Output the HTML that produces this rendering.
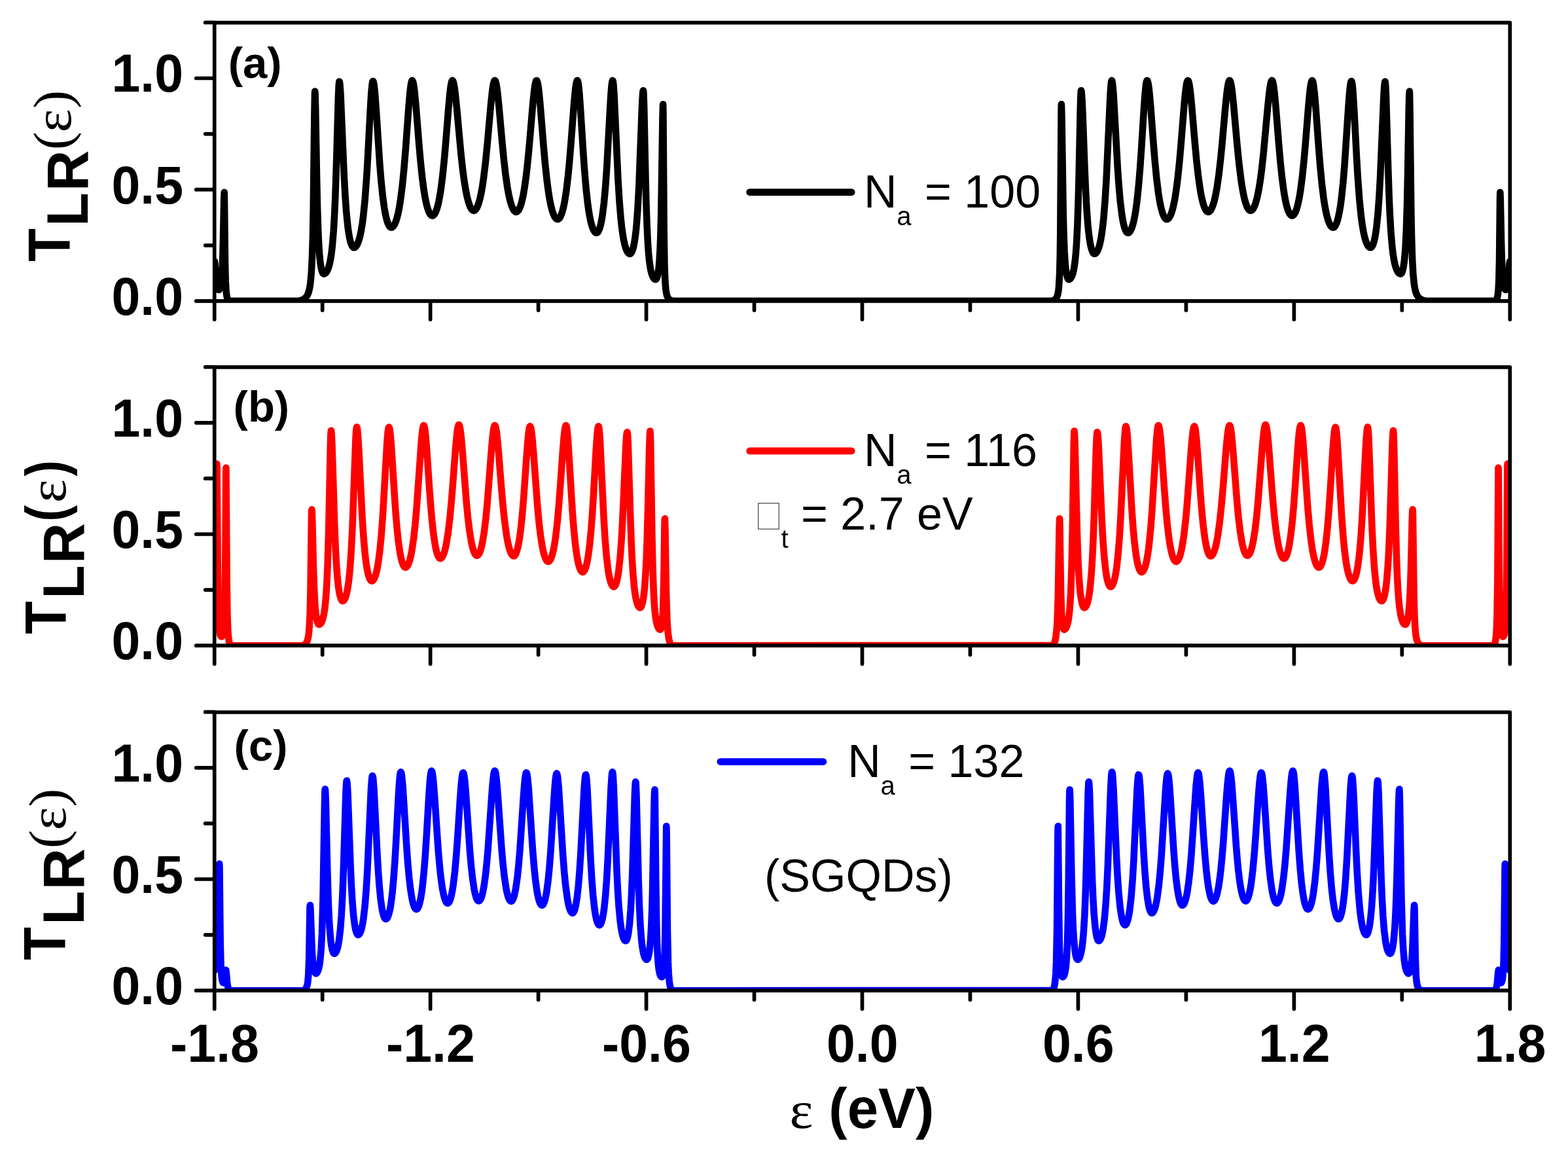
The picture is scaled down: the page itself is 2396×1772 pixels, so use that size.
<!DOCTYPE html>
<html><head><meta charset="utf-8"><title>Transmission spectra of SGQDs</title>
<style>
html,body{margin:0;padding:0;background:#fff;overflow:hidden;}
svg{display:block;}
.tk{font-family:"Liberation Sans",Arial,sans-serif;font-weight:bold;font-size:80px;fill:#000;}
.lg{font-family:"Liberation Sans",Arial,sans-serif;font-size:70px;fill:#000;}
.sub{font-family:"Liberation Sans",Arial,sans-serif;font-size:40px;fill:#000;}
.pl{font-family:"Liberation Sans",Arial,sans-serif;font-weight:bold;font-size:67px;fill:#000;}
.yl{font-family:"Liberation Sans",Arial,sans-serif;font-weight:bold;font-size:87px;fill:#000;}
.sr{font-family:"Liberation Serif","Times New Roman",serif;font-size:87px;fill:#000;}
</style></head>
<body>
<svg width="2396" height="1772" viewBox="0 0 2396 1772">
<rect width="2396" height="1772" fill="#fff"/>
<defs>
<clipPath id="c0"><rect x="327.7" y="34.6" width="1979.60" height="425.30"/></clipPath>
<clipPath id="c1"><rect x="327.7" y="560.9" width="1979.60" height="425.30"/></clipPath>
<clipPath id="c2"><rect x="327.7" y="1088.0" width="1979.60" height="425.20"/></clipPath>
</defs>
<path clip-path="url(#c0)" d="M327.70,400.33 L327.95,399.44 L328.45,402.66 L330.45,429.75 L331.20,435.40 L332.20,439.83 L332.95,441.64 L333.70,442.52 L334.20,442.69 L334.70,442.55 L335.45,441.73 L336.70,438.54 L337.95,431.74 L339.20,417.70 L340.20,395.63 L340.95,367.94 L342.20,306.09 L342.70,293.78 L342.95,303.74 L343.95,396.98 L344.70,429.17 L345.45,443.25 L346.20,450.24 L346.70,453.06 L347.45,455.83 L348.20,457.60 L348.95,458.79 L349.95,459.86 L350.20,459.90 L455.95,459.90 L460.70,458.67 L464.20,457.02 L466.95,454.83 L469.20,451.85 L470.95,448.13 L472.20,444.14 L473.20,439.65 L474.20,433.33 L475.70,417.82 L476.95,394.13 L477.95,360.92 L478.70,321.48 L480.45,173.19 L480.95,143.70 L481.20,139.58 L481.45,141.25 L481.70,146.40 L482.20,165.59 L483.95,266.37 L484.95,313.22 L486.20,353.21 L487.45,378.44 L488.45,391.81 L489.45,401.21 L490.70,409.16 L491.95,414.18 L493.20,417.09 L493.95,418.00 L494.70,418.37 L495.70,418.24 L496.95,417.61 L497.95,416.72 L498.95,415.46 L500.70,412.24 L502.45,407.44 L503.95,401.69 L505.20,395.37 L506.45,387.23 L507.70,376.71 L509.70,352.87 L511.20,326.89 L512.45,297.96 L513.95,252.94 L516.95,147.91 L517.70,131.28 L518.20,125.62 L518.45,124.65 L518.70,124.81 L518.95,125.64 L519.45,129.19 L520.45,143.04 L525.70,266.39 L527.45,298.65 L529.20,323.30 L531.45,345.94 L532.70,355.11 L533.95,362.34 L535.20,367.95 L536.70,372.88 L538.20,376.11 L539.70,377.84 L540.70,378.20 L541.70,378.06 L542.95,377.36 L543.95,376.39 L545.20,374.62 L546.20,372.74 L548.20,367.62 L550.20,360.40 L551.95,352.00 L553.70,341.23 L555.20,329.71 L557.70,304.72 L560.20,270.90 L561.95,241.53 L565.70,169.57 L567.20,144.63 L567.95,135.09 L568.70,128.26 L569.45,124.55 L569.95,123.93 L570.20,124.11 L570.70,125.25 L571.45,128.88 L572.20,134.63 L573.20,145.15 L574.70,165.43 L580.45,252.53 L582.45,276.79 L584.70,298.80 L587.20,317.33 L588.45,324.58 L589.95,331.73 L591.45,337.38 L592.95,341.68 L594.45,344.75 L596.20,346.90 L597.20,347.46 L598.20,347.55 L599.45,347.13 L600.45,346.38 L602.45,343.75 L604.45,339.53 L606.45,333.55 L608.20,326.70 L609.95,318.14 L611.70,307.65 L614.70,284.46 L617.45,256.64 L619.95,225.88 L624.45,164.22 L626.20,143.56 L627.20,134.29 L628.20,127.54 L629.20,123.71 L629.70,122.97 L629.95,122.91 L630.70,123.80 L631.70,127.36 L632.70,133.45 L633.70,141.73 L635.70,163.12 L640.20,219.34 L642.45,245.04 L644.95,269.30 L647.70,290.47 L649.20,299.74 L650.70,307.54 L652.20,313.99 L653.95,319.97 L655.45,323.87 L657.20,327.09 L658.95,328.96 L659.70,329.36 L660.70,329.52 L661.70,329.27 L662.45,328.81 L664.20,326.79 L665.95,323.41 L667.45,319.37 L669.20,313.21 L670.70,306.58 L672.20,298.59 L673.70,289.12 L676.20,269.74 L678.70,245.58 L680.95,219.95 L685.45,163.72 L687.20,144.58 L688.20,135.72 L689.20,128.94 L690.20,124.59 L690.95,123.08 L691.45,122.93 L691.95,123.38 L692.45,124.38 L693.20,126.88 L694.45,133.57 L695.70,142.97 L697.95,164.77 L704.45,235.47 L706.95,258.21 L709.20,275.34 L711.45,289.35 L713.70,300.50 L716.20,309.84 L717.45,313.42 L718.70,316.33 L719.70,318.18 L720.95,319.94 L721.95,320.91 L723.20,321.58 L724.45,321.66 L725.45,321.29 L726.45,320.52 L727.45,319.36 L729.45,315.79 L731.45,310.49 L733.45,303.31 L735.45,294.07 L737.20,284.13 L738.70,274.12 L741.95,247.45 L744.70,219.72 L749.95,160.72 L751.95,141.53 L753.20,132.33 L754.20,127.03 L755.20,123.84 L755.70,123.09 L756.20,122.92 L756.70,123.32 L757.20,124.28 L758.20,127.87 L759.20,133.50 L760.45,143.02 L762.45,162.47 L767.20,215.89 L769.70,241.77 L772.45,265.95 L775.20,285.30 L776.70,293.92 L778.45,302.39 L779.95,308.38 L781.70,314.01 L783.45,318.29 L785.20,321.29 L786.95,323.10 L787.70,323.51 L788.70,323.74 L789.70,323.57 L790.45,323.18 L792.20,321.33 L793.95,318.15 L795.45,314.31 L796.95,309.38 L798.45,303.27 L799.95,295.88 L801.45,287.12 L804.20,267.18 L806.70,244.44 L809.20,217.54 L813.95,161.48 L815.95,141.36 L817.20,131.85 L818.20,126.52 L819.20,123.52 L819.70,122.95 L820.20,123.03 L820.95,124.41 L821.95,128.55 L822.95,135.10 L823.95,143.71 L825.70,162.49 L830.45,221.51 L832.95,249.69 L835.70,275.55 L838.45,295.86 L840.20,306.14 L841.95,314.58 L843.70,321.37 L845.45,326.65 L847.20,330.56 L849.20,333.49 L850.20,334.36 L851.20,334.85 L852.20,334.96 L853.20,334.67 L854.20,333.94 L854.95,333.11 L856.45,330.69 L858.20,326.54 L859.70,321.76 L861.20,315.74 L862.70,308.36 L865.45,290.87 L867.95,269.92 L870.20,246.58 L872.45,219.26 L876.70,163.03 L878.45,143.11 L879.45,134.14 L880.45,127.57 L881.45,123.77 L881.95,123.00 L882.20,122.90 L882.45,123.04 L882.95,124.12 L883.70,127.70 L884.45,133.47 L885.45,144.12 L886.95,164.77 L890.95,228.58 L892.95,257.35 L895.45,287.13 L897.95,310.07 L899.45,320.94 L900.95,329.95 L902.45,337.32 L904.20,344.10 L905.95,349.16 L907.70,352.71 L909.45,354.86 L910.45,355.51 L911.45,355.74 L912.45,355.47 L913.20,354.89 L914.70,352.71 L916.20,349.10 L917.70,343.91 L919.20,336.94 L920.45,329.59 L922.95,309.81 L925.20,284.99 L927.20,256.36 L932.20,164.69 L933.70,140.78 L934.45,131.95 L935.20,125.92 L935.95,123.09 L936.20,122.90 L936.45,123.25 L936.95,125.53 L937.45,129.86 L938.45,143.93 L944.45,274.33 L946.45,307.02 L948.70,334.29 L949.95,345.89 L951.45,357.14 L952.95,366.01 L954.70,373.92 L956.45,379.72 L958.20,383.78 L959.20,385.42 L960.20,386.60 L961.20,387.37 L962.20,387.71 L962.95,387.68 L963.70,387.29 L965.20,385.35 L966.70,381.76 L968.20,376.24 L969.45,369.88 L970.70,361.54 L971.95,350.77 L972.95,339.99 L974.70,315.35 L976.45,281.57 L981.20,157.71 L982.20,142.13 L982.70,138.71 L982.95,138.22 L983.20,139.11 L983.45,142.34 L984.20,164.38 L986.45,271.27 L987.45,310.39 L988.70,346.39 L989.95,371.23 L990.95,385.44 L991.95,396.10 L992.95,404.19 L994.20,411.68 L995.70,417.96 L997.45,422.71 L999.20,425.49 L1000.20,426.38 L1001.20,426.82 L1001.95,426.85 L1002.45,426.57 L1003.20,425.62 L1003.70,424.60 L1004.70,421.48 L1005.70,416.50 L1006.70,408.86 L1007.45,400.57 L1008.70,378.85 L1009.45,358.28 L1010.20,328.90 L1012.45,182.65 L1012.95,161.97 L1013.20,159.33 L1013.45,174.17 L1014.70,355.80 L1015.45,403.17 L1016.20,425.65 L1016.70,434.29 L1017.45,442.48 L1018.45,448.75 L1019.45,452.38 L1020.95,455.49 L1022.70,457.46 L1025.20,458.94 L1028.45,459.89 L1606.30,459.90 L1608.55,459.39 L1610.55,458.59 L1612.55,457.24 L1614.30,455.09 L1615.55,452.38 L1616.55,448.75 L1617.30,444.42 L1618.05,437.52 L1619.05,419.78 L1619.80,391.29 L1620.30,355.80 L1621.55,174.17 L1621.80,159.33 L1622.05,161.97 L1622.55,182.65 L1624.80,328.90 L1625.55,358.28 L1626.55,384.24 L1627.80,403.64 L1628.55,411.08 L1629.55,417.95 L1630.55,422.41 L1631.80,425.62 L1632.30,426.33 L1633.05,426.85 L1634.30,426.66 L1635.30,425.99 L1636.05,425.19 L1637.80,422.17 L1639.30,417.96 L1640.80,411.68 L1642.05,404.19 L1643.05,396.10 L1644.05,385.44 L1645.05,371.23 L1646.30,346.39 L1647.55,310.39 L1648.55,271.27 L1650.80,164.38 L1651.30,147.80 L1651.80,139.11 L1652.05,138.22 L1652.55,140.02 L1653.55,152.86 L1654.55,175.16 L1657.30,251.23 L1658.80,287.02 L1660.55,319.39 L1662.30,342.89 L1663.30,353.14 L1664.55,363.39 L1665.80,371.30 L1667.05,377.31 L1668.55,382.48 L1670.05,385.78 L1670.80,386.81 L1671.55,387.46 L1672.30,387.73 L1673.30,387.59 L1674.30,387.04 L1675.30,386.06 L1677.05,383.29 L1678.80,379.00 L1680.55,372.93 L1682.05,366.01 L1683.55,357.14 L1685.05,345.89 L1686.30,334.29 L1688.55,307.02 L1690.55,274.33 L1696.55,143.93 L1697.80,127.45 L1698.30,124.13 L1698.80,122.90 L1699.30,123.66 L1700.05,127.59 L1701.55,144.26 L1707.80,256.36 L1709.80,284.99 L1711.80,307.41 L1714.30,327.93 L1715.55,335.59 L1716.80,341.80 L1718.30,347.55 L1719.80,351.67 L1721.30,354.32 L1722.05,355.12 L1722.80,355.59 L1723.80,355.72 L1724.80,355.39 L1725.80,354.64 L1726.80,353.46 L1728.80,349.76 L1730.55,344.92 L1732.30,338.40 L1734.05,329.95 L1735.55,320.94 L1737.05,310.07 L1739.55,287.13 L1742.05,257.35 L1744.05,228.58 L1748.05,164.77 L1749.55,144.12 L1751.05,129.39 L1751.80,125.05 L1752.55,123.04 L1753.05,123.00 L1753.55,123.77 L1754.55,127.57 L1755.55,134.14 L1756.55,143.11 L1758.30,163.03 L1762.55,219.26 L1764.80,246.58 L1767.30,272.25 L1770.05,294.46 L1771.55,304.13 L1773.05,312.23 L1774.55,318.91 L1776.30,325.08 L1777.80,329.10 L1779.55,332.42 L1781.30,334.36 L1782.05,334.78 L1783.05,334.97 L1784.05,334.77 L1785.05,334.18 L1786.80,332.23 L1788.55,329.05 L1790.30,324.56 L1792.05,318.65 L1793.55,312.35 L1795.30,303.40 L1796.80,294.23 L1799.55,273.43 L1802.30,247.06 L1804.55,221.51 L1809.30,162.49 L1811.05,143.71 L1812.05,135.10 L1813.05,128.55 L1814.05,124.41 L1814.80,123.03 L1815.30,122.95 L1815.80,123.52 L1816.80,126.52 L1817.80,131.85 L1819.05,141.36 L1821.05,161.48 L1825.80,217.54 L1828.30,244.44 L1830.80,267.18 L1833.55,287.12 L1835.05,295.88 L1836.55,303.27 L1838.05,309.38 L1839.55,314.31 L1841.05,318.15 L1842.80,321.33 L1844.55,323.18 L1845.30,323.57 L1846.30,323.74 L1847.30,323.51 L1848.05,323.10 L1849.80,321.29 L1851.55,318.29 L1853.30,314.01 L1855.05,308.38 L1856.55,302.39 L1858.30,293.92 L1859.80,285.30 L1862.55,265.95 L1865.30,241.77 L1867.80,215.89 L1872.55,162.47 L1874.55,143.02 L1875.80,133.50 L1876.80,127.87 L1877.80,124.28 L1878.30,123.32 L1878.80,122.92 L1879.30,123.09 L1879.80,123.84 L1880.80,127.03 L1881.80,132.33 L1883.05,141.53 L1885.05,160.72 L1890.30,219.72 L1893.05,247.45 L1896.30,274.12 L1897.80,284.13 L1899.55,294.07 L1901.55,303.31 L1903.55,310.49 L1905.55,315.79 L1907.55,319.36 L1908.55,320.52 L1909.55,321.29 L1910.55,321.66 L1911.80,321.58 L1913.05,320.91 L1914.05,319.94 L1915.30,318.18 L1916.30,316.33 L1917.55,313.42 L1918.80,309.84 L1921.30,300.50 L1923.55,289.35 L1925.80,275.34 L1928.05,258.21 L1930.55,235.47 L1937.05,164.77 L1939.30,142.97 L1940.55,133.57 L1941.80,126.88 L1942.55,124.38 L1943.05,123.38 L1943.55,122.93 L1944.05,123.08 L1944.80,124.59 L1945.80,128.94 L1946.80,135.72 L1947.80,144.58 L1949.55,163.72 L1954.05,219.95 L1956.30,245.58 L1958.80,269.74 L1961.30,289.12 L1962.80,298.59 L1964.30,306.58 L1965.80,313.21 L1967.55,319.37 L1969.05,323.41 L1970.80,326.79 L1972.55,328.81 L1973.30,329.27 L1974.30,329.52 L1975.30,329.36 L1976.05,328.96 L1977.80,327.09 L1979.55,323.87 L1981.05,319.97 L1982.80,313.99 L1984.30,307.54 L1985.80,299.74 L1987.30,290.47 L1990.05,269.30 L1992.55,245.04 L1994.80,219.34 L1999.30,163.12 L2001.30,141.73 L2002.30,133.45 L2003.30,127.36 L2004.30,123.80 L2004.80,123.03 L2005.30,122.97 L2006.05,124.37 L2007.05,128.97 L2008.80,143.56 L2010.55,164.22 L2015.05,225.88 L2017.30,253.79 L2019.80,279.88 L2022.55,302.50 L2024.05,312.40 L2025.80,322.03 L2027.55,329.83 L2029.30,336.01 L2031.05,340.74 L2033.05,344.55 L2034.05,345.86 L2035.05,346.80 L2036.05,347.36 L2037.05,347.57 L2038.05,347.36 L2038.80,346.90 L2040.55,344.75 L2042.30,341.05 L2043.80,336.54 L2045.30,330.65 L2046.80,323.22 L2048.30,314.07 L2049.80,302.97 L2052.30,279.51 L2054.55,252.53 L2060.30,165.43 L2061.80,145.15 L2062.80,134.63 L2063.55,128.88 L2064.30,125.25 L2064.80,124.11 L2065.05,123.93 L2065.55,124.55 L2066.30,128.26 L2067.05,135.09 L2067.80,144.63 L2069.30,169.57 L2073.05,241.53 L2074.80,270.90 L2077.30,304.72 L2079.80,329.71 L2081.30,341.23 L2083.05,352.00 L2084.80,360.40 L2086.55,366.84 L2088.55,372.21 L2089.55,374.19 L2090.80,376.08 L2091.80,377.15 L2093.05,377.96 L2094.05,378.20 L2095.05,377.99 L2095.80,377.42 L2096.55,376.50 L2098.05,373.53 L2099.55,368.90 L2100.80,363.58 L2102.05,356.69 L2103.30,347.95 L2105.55,326.27 L2107.30,302.61 L2109.05,271.49 L2114.55,143.04 L2115.55,129.19 L2116.05,125.64 L2116.30,124.81 L2116.55,124.65 L2116.80,125.62 L2117.30,131.28 L2118.05,147.91 L2121.05,252.94 L2122.55,297.96 L2123.80,326.89 L2125.30,352.87 L2127.30,376.71 L2128.55,387.23 L2129.80,395.37 L2131.05,401.69 L2132.55,407.44 L2134.30,412.24 L2136.05,415.46 L2137.05,416.72 L2138.05,417.61 L2139.30,418.24 L2140.30,418.37 L2141.05,418.00 L2141.80,417.09 L2143.05,414.18 L2144.30,409.16 L2145.55,401.21 L2146.55,391.81 L2147.55,378.44 L2148.80,353.21 L2150.05,313.22 L2151.05,266.37 L2152.80,165.59 L2153.30,146.40 L2153.55,141.25 L2153.80,139.58 L2154.05,143.70 L2154.55,173.19 L2156.30,321.48 L2157.05,360.92 L2158.05,394.13 L2159.30,417.82 L2160.80,433.33 L2161.80,439.65 L2162.80,444.14 L2164.05,448.13 L2165.80,451.85 L2168.05,454.83 L2170.80,457.02 L2174.30,458.67 L2179.05,459.90 L2284.80,459.90 L2285.05,459.86 L2286.05,458.79 L2286.80,457.60 L2287.55,455.83 L2288.30,453.06 L2288.80,450.24 L2289.55,443.25 L2290.30,429.17 L2291.05,396.98 L2292.05,303.74 L2292.30,293.78 L2292.80,306.09 L2294.05,367.94 L2294.80,395.63 L2295.80,417.70 L2297.05,431.74 L2298.30,438.54 L2299.55,441.73 L2300.30,442.55 L2300.80,442.69 L2301.30,442.52 L2302.05,441.64 L2302.80,439.83 L2303.80,435.40 L2304.55,429.75 L2306.55,402.66 L2307.05,399.44 L2307.30,400.33" fill="none" stroke="#000000" stroke-width="10.6" stroke-linejoin="round" stroke-linecap="round"/>
<path clip-path="url(#c1)" d="M327.70,884.08 L327.95,883.39 L328.20,881.29 L328.70,872.48 L329.45,844.94 L330.95,730.76 L331.45,708.64 L331.70,719.13 L332.95,894.33 L333.45,925.21 L333.95,942.80 L334.95,960.12 L335.70,966.21 L336.70,970.41 L337.20,971.55 L337.95,972.44 L338.70,972.53 L339.45,971.86 L340.20,970.28 L340.70,968.54 L341.70,962.31 L342.45,953.07 L342.95,942.42 L343.70,911.64 L344.45,839.55 L345.20,723.94 L345.45,714.57 L346.70,888.89 L347.45,938.91 L348.20,960.94 L348.95,971.97 L349.95,979.62 L350.70,982.88 L351.45,985.04 L351.95,986.11 L352.20,986.20 L462.95,986.20 L464.95,985.23 L466.70,983.83 L468.20,981.87 L469.45,979.22 L470.45,975.87 L471.20,972.10 L471.95,966.49 L472.95,953.72 L473.70,936.33 L474.45,905.43 L475.95,789.41 L476.20,779.49 L476.45,778.38 L476.70,780.60 L477.20,793.18 L478.95,865.45 L479.95,896.49 L481.20,921.23 L481.95,930.92 L482.95,939.97 L484.20,947.16 L484.95,949.96 L485.70,951.94 L486.45,953.22 L487.45,954.01 L488.20,953.96 L489.45,953.17 L490.45,952.00 L491.45,950.28 L492.45,947.92 L493.45,944.77 L494.95,938.13 L496.45,928.21 L497.70,916.16 L498.70,902.87 L499.70,884.98 L500.70,860.78 L502.20,808.32 L504.95,677.33 L505.45,663.11 L505.95,657.73 L506.20,658.55 L506.70,663.72 L507.45,679.29 L511.45,807.85 L512.95,842.91 L514.45,868.29 L516.20,888.73 L517.20,897.13 L518.45,905.10 L519.70,910.83 L520.95,914.73 L521.70,916.32 L522.45,917.40 L523.20,917.99 L523.95,918.11 L524.95,917.70 L525.70,917.00 L526.70,915.51 L527.45,913.97 L528.95,909.62 L530.45,903.34 L531.70,896.29 L532.95,887.18 L534.20,875.49 L535.20,863.86 L536.95,837.32 L538.70,801.02 L543.45,670.46 L544.20,657.96 L544.95,652.44 L545.20,652.31 L545.45,652.72 L546.20,656.70 L547.45,671.43 L548.70,693.57 L553.45,789.10 L555.45,819.63 L557.45,842.82 L558.70,854.11 L559.95,863.31 L561.20,870.71 L562.45,876.53 L563.70,880.98 L565.20,884.71 L566.70,886.84 L567.45,887.35 L568.20,887.48 L569.20,887.18 L569.95,886.63 L571.70,884.20 L573.45,880.06 L574.95,875.02 L576.45,868.39 L577.95,859.93 L580.45,840.96 L582.70,817.47 L584.95,786.77 L591.45,674.08 L592.70,659.73 L593.45,654.65 L593.95,652.96 L594.20,652.64 L594.45,652.65 L594.70,652.96 L595.45,655.58 L596.20,660.64 L597.20,670.70 L598.70,691.11 L602.45,751.57 L604.45,780.74 L606.45,805.11 L608.70,826.68 L611.20,844.21 L612.45,850.79 L613.95,857.01 L615.20,860.94 L616.70,864.26 L618.20,866.16 L618.95,866.61 L619.70,866.72 L620.70,866.41 L621.45,865.85 L622.95,863.90 L624.70,860.13 L626.20,855.52 L627.70,849.53 L629.20,841.99 L631.95,823.57 L634.45,800.79 L636.70,774.82 L643.95,672.37 L645.45,657.84 L646.20,653.16 L646.70,651.15 L647.20,650.07 L647.45,649.89 L647.70,649.96 L648.45,651.65 L649.45,657.19 L650.45,666.08 L652.20,687.62 L656.20,746.68 L658.20,773.45 L660.20,796.06 L662.45,816.27 L664.95,832.82 L666.20,839.03 L667.45,844.00 L668.70,847.83 L670.20,851.01 L671.45,852.55 L672.20,853.00 L672.95,853.10 L673.95,852.77 L674.70,852.20 L676.20,850.20 L677.70,847.04 L679.20,842.62 L680.70,836.87 L681.95,830.98 L684.70,814.06 L687.20,793.41 L689.45,770.16 L691.70,742.78 L695.70,689.68 L697.45,669.49 L698.45,660.36 L699.45,653.65 L700.45,649.76 L700.95,648.97 L701.20,648.86 L701.45,648.97 L701.95,649.77 L702.95,653.66 L703.95,660.39 L704.95,669.52 L706.70,689.71 L712.70,766.87 L714.95,790.28 L717.45,811.03 L720.20,827.91 L721.45,833.74 L722.95,839.35 L724.20,842.97 L725.70,846.10 L727.20,847.99 L727.95,848.48 L728.70,848.68 L729.45,848.57 L730.20,848.16 L731.70,846.42 L733.20,843.41 L734.45,839.89 L735.95,834.37 L737.20,828.60 L739.95,811.81 L742.45,791.04 L744.70,767.55 L750.70,689.92 L752.45,669.75 L753.45,660.72 L754.45,654.18 L755.45,650.55 L755.70,650.14 L756.20,649.90 L756.95,650.94 L757.95,654.78 L758.95,661.19 L759.95,669.81 L761.70,688.82 L766.20,745.38 L768.70,773.70 L771.45,799.28 L774.20,818.85 L775.95,828.43 L777.70,836.00 L779.45,841.75 L781.45,846.28 L783.20,848.56 L784.20,849.20 L785.20,849.35 L786.20,848.91 L786.95,848.16 L787.95,846.58 L788.70,844.96 L790.70,838.69 L792.70,829.34 L794.45,818.34 L796.20,804.40 L797.95,787.26 L799.95,763.64 L804.95,692.63 L806.70,670.59 L807.70,660.98 L808.70,654.42 L809.45,651.81 L809.95,651.25 L810.45,651.58 L811.20,653.68 L811.95,657.62 L813.70,672.95 L815.20,691.10 L821.20,772.00 L823.45,796.41 L825.95,817.95 L828.70,835.43 L829.95,841.48 L831.45,847.35 L832.95,851.84 L834.45,855.03 L835.95,857.02 L836.70,857.57 L837.70,857.87 L838.45,857.75 L839.20,857.33 L840.70,855.58 L842.20,852.57 L843.70,848.23 L845.20,842.44 L846.45,836.41 L847.95,827.60 L849.20,818.82 L851.45,799.37 L853.70,774.91 L855.95,745.64 L859.95,688.52 L861.70,667.48 L862.70,658.50 L863.45,653.71 L863.95,651.55 L864.45,650.27 L864.95,649.89 L865.20,650.12 L865.70,651.52 L866.45,655.89 L867.95,671.77 L874.70,781.36 L876.70,807.27 L878.95,830.13 L881.45,848.68 L882.70,855.69 L884.20,862.37 L885.70,867.38 L887.20,870.90 L888.70,873.03 L889.45,873.60 L890.45,873.87 L891.20,873.67 L891.95,873.12 L893.45,870.93 L894.95,867.20 L896.20,862.83 L897.45,857.18 L898.70,850.11 L901.20,831.02 L903.20,810.09 L905.20,783.36 L906.95,755.23 L910.45,692.48 L911.95,669.61 L912.70,660.98 L913.45,654.88 L914.20,651.68 L914.45,651.31 L914.70,651.31 L915.20,652.83 L915.70,656.35 L916.95,672.77 L922.70,793.24 L924.45,821.69 L926.45,846.67 L928.70,866.84 L929.95,875.16 L931.45,882.94 L932.95,888.70 L934.45,892.72 L935.95,895.20 L936.70,895.91 L937.70,896.33 L938.45,896.21 L939.20,895.67 L940.45,893.78 L941.95,889.78 L943.20,884.83 L944.45,878.17 L945.45,871.43 L947.70,850.53 L949.45,827.37 L951.20,796.73 L956.45,677.80 L957.45,664.41 L957.95,661.03 L958.20,660.26 L958.45,660.12 L958.70,660.95 L959.20,666.11 L959.95,681.56 L962.95,780.42 L964.45,823.08 L965.70,850.50 L967.20,875.06 L969.20,897.36 L970.45,907.00 L971.70,914.25 L973.20,920.53 L974.70,924.73 L976.20,927.24 L976.95,927.94 L977.95,928.33 L978.70,928.15 L979.45,927.41 L980.70,924.84 L981.95,920.36 L982.95,915.09 L983.95,907.94 L984.95,898.35 L986.45,877.70 L987.70,852.33 L988.70,824.72 L989.95,779.31 L992.20,683.10 L992.95,663.15 L993.45,658.44 L993.70,660.71 L994.20,677.94 L996.20,807.96 L997.45,866.91 L998.95,908.12 L999.70,921.14 L1000.70,933.65 L1001.70,942.40 L1002.95,949.91 L1004.45,955.69 L1005.20,957.68 L1006.20,959.62 L1007.20,960.91 L1008.45,961.79 L1008.95,961.83 L1009.45,961.40 L1010.20,959.75 L1010.70,957.86 L1011.70,951.29 L1012.45,942.44 L1012.95,933.36 L1013.70,911.60 L1014.45,873.86 L1015.45,803.42 L1015.70,793.58 L1015.95,792.31 L1016.45,807.70 L1018.20,911.58 L1019.45,948.33 L1020.45,963.24 L1021.20,970.19 L1021.95,975.03 L1022.70,978.52 L1023.70,981.81 L1024.95,984.59 L1025.95,986.13 L1026.20,986.20 L1609.05,986.13 L1610.30,984.12 L1611.55,981.10 L1612.55,977.47 L1613.30,973.60 L1614.55,963.24 L1615.55,948.33 L1616.80,911.58 L1618.55,807.70 L1619.05,792.31 L1619.30,793.58 L1619.55,803.42 L1620.55,873.86 L1621.30,911.60 L1622.05,933.36 L1622.55,942.44 L1623.30,951.29 L1624.30,957.86 L1624.80,959.75 L1625.55,961.40 L1626.05,961.83 L1626.55,961.79 L1627.80,960.91 L1628.80,959.62 L1629.80,957.68 L1630.55,955.69 L1632.05,949.91 L1633.30,942.40 L1634.30,933.65 L1635.30,921.14 L1636.05,908.12 L1637.55,866.91 L1638.80,807.96 L1640.80,677.94 L1641.30,660.71 L1641.55,658.44 L1642.05,663.15 L1642.80,683.10 L1645.05,779.31 L1646.30,824.72 L1647.30,852.33 L1648.55,877.70 L1650.05,898.35 L1651.05,907.94 L1652.05,915.09 L1653.05,920.36 L1654.30,924.84 L1655.55,927.41 L1656.30,928.15 L1657.05,928.33 L1658.05,927.94 L1658.80,927.24 L1660.30,924.73 L1661.80,920.53 L1663.30,914.25 L1664.55,907.00 L1665.80,897.36 L1667.80,875.06 L1669.30,850.50 L1670.55,823.08 L1672.05,780.42 L1674.80,688.35 L1675.55,670.32 L1676.30,660.95 L1676.55,660.12 L1676.80,660.26 L1677.30,662.41 L1677.80,666.98 L1678.55,677.80 L1683.80,796.73 L1685.55,827.37 L1687.55,853.30 L1689.80,873.24 L1690.80,879.65 L1692.05,885.94 L1693.30,890.58 L1694.80,894.26 L1696.05,895.90 L1696.80,896.30 L1697.55,896.28 L1698.30,895.91 L1699.05,895.20 L1700.55,892.72 L1702.05,888.70 L1703.55,882.94 L1705.05,875.16 L1706.30,866.84 L1708.55,846.67 L1710.55,821.69 L1712.30,793.24 L1718.05,672.77 L1719.30,656.35 L1719.80,652.83 L1720.30,651.31 L1720.55,651.31 L1720.80,651.68 L1721.55,654.88 L1722.30,660.98 L1723.05,669.61 L1724.55,692.48 L1729.55,779.60 L1731.55,807.07 L1733.55,828.70 L1736.05,848.52 L1737.30,855.88 L1738.55,861.80 L1739.80,866.42 L1741.30,870.42 L1742.55,872.56 L1743.30,873.35 L1744.05,873.78 L1744.80,873.85 L1745.80,873.45 L1747.30,871.76 L1749.05,868.07 L1750.55,863.31 L1752.05,856.92 L1753.30,850.20 L1754.80,840.22 L1756.05,830.13 L1758.30,807.27 L1760.30,781.36 L1767.05,671.77 L1768.55,655.89 L1769.30,651.52 L1769.80,650.12 L1770.05,649.89 L1770.55,650.27 L1771.05,651.55 L1771.55,653.71 L1772.30,658.50 L1773.30,667.48 L1775.05,688.52 L1779.05,745.64 L1781.30,774.91 L1783.55,799.37 L1785.80,818.82 L1787.05,827.60 L1788.55,836.41 L1789.80,842.44 L1791.30,848.23 L1792.80,852.57 L1794.30,855.58 L1795.80,857.33 L1796.55,857.75 L1797.30,857.87 L1798.30,857.57 L1799.05,857.02 L1800.55,855.03 L1802.05,851.84 L1803.55,847.35 L1805.05,841.48 L1806.30,835.43 L1809.05,817.95 L1811.55,796.41 L1813.80,772.00 L1819.80,691.10 L1821.30,672.95 L1823.05,657.62 L1823.80,653.68 L1824.55,651.58 L1825.05,651.25 L1825.55,651.81 L1826.30,654.42 L1827.30,660.98 L1828.30,670.59 L1830.05,692.63 L1835.05,763.64 L1837.05,787.26 L1838.80,804.40 L1840.55,818.34 L1842.30,829.34 L1844.30,838.69 L1846.30,844.96 L1847.05,846.58 L1848.05,848.16 L1848.80,848.91 L1849.80,849.35 L1850.80,849.20 L1851.80,848.56 L1853.55,846.28 L1855.55,841.75 L1857.30,836.00 L1859.05,828.43 L1860.80,818.85 L1863.55,799.28 L1866.30,773.70 L1868.80,745.38 L1873.30,688.82 L1875.05,669.81 L1876.05,661.19 L1877.05,654.78 L1878.05,650.94 L1878.80,649.90 L1879.30,650.14 L1879.55,650.55 L1880.55,654.18 L1881.55,660.72 L1882.55,669.75 L1884.30,689.92 L1890.30,767.55 L1892.55,791.04 L1895.05,811.81 L1897.80,828.60 L1899.05,834.37 L1900.55,839.89 L1901.80,843.41 L1903.30,846.42 L1904.80,848.16 L1905.55,848.57 L1906.30,848.68 L1907.05,848.48 L1907.80,847.99 L1909.30,846.10 L1910.80,842.97 L1912.05,839.35 L1913.55,833.74 L1914.80,827.91 L1917.55,811.03 L1920.05,790.28 L1922.30,766.87 L1928.30,689.71 L1930.05,669.52 L1931.05,660.39 L1932.05,653.66 L1933.05,649.77 L1933.55,648.97 L1933.80,648.86 L1934.05,648.97 L1934.55,649.76 L1935.55,653.65 L1936.55,660.36 L1937.55,669.49 L1939.30,689.68 L1943.30,742.78 L1945.55,770.16 L1947.80,793.41 L1950.30,814.06 L1953.05,830.98 L1954.30,836.87 L1955.80,842.62 L1957.30,847.04 L1958.80,850.20 L1960.30,852.20 L1961.05,852.77 L1962.05,853.10 L1962.80,853.00 L1963.55,852.55 L1964.80,851.01 L1966.30,847.83 L1967.55,844.00 L1968.80,839.03 L1970.05,832.82 L1972.55,816.27 L1974.80,796.06 L1976.80,773.45 L1978.80,746.68 L1982.80,687.62 L1984.55,666.08 L1985.55,657.19 L1986.55,651.65 L1987.30,649.96 L1987.55,649.89 L1987.80,650.07 L1988.30,651.15 L1988.80,653.16 L1989.55,657.84 L1991.05,672.37 L1998.30,774.82 L2000.55,800.79 L2003.05,823.57 L2005.80,841.99 L2007.30,849.53 L2008.80,855.52 L2010.30,860.13 L2012.05,863.90 L2013.55,865.85 L2014.30,866.41 L2015.30,866.72 L2016.05,866.61 L2016.80,866.16 L2018.30,864.26 L2019.80,860.94 L2021.05,857.01 L2022.55,850.79 L2023.80,844.21 L2026.30,826.68 L2028.55,805.11 L2030.55,780.74 L2032.55,751.57 L2036.30,691.11 L2037.80,670.70 L2038.80,660.64 L2039.55,655.58 L2040.30,652.96 L2040.55,652.65 L2040.80,652.64 L2041.05,652.96 L2041.55,654.65 L2042.30,659.73 L2043.55,674.08 L2050.05,786.77 L2052.30,817.47 L2054.55,840.96 L2057.05,859.93 L2058.55,868.39 L2060.05,875.02 L2061.55,880.06 L2063.30,884.20 L2065.05,886.63 L2065.80,887.18 L2066.80,887.48 L2067.55,887.35 L2068.30,886.84 L2069.80,884.71 L2071.30,880.98 L2072.55,876.53 L2073.80,870.71 L2075.05,863.31 L2076.30,854.11 L2077.55,842.82 L2079.55,819.63 L2081.55,789.10 L2086.30,693.57 L2087.55,671.43 L2088.80,656.70 L2089.55,652.72 L2089.80,652.31 L2090.05,652.44 L2090.80,657.96 L2091.55,670.46 L2096.30,801.02 L2098.05,837.32 L2099.80,863.86 L2100.80,875.49 L2102.05,887.18 L2103.30,896.29 L2104.55,903.34 L2106.05,909.62 L2107.55,913.97 L2108.30,915.51 L2109.30,917.00 L2110.05,917.70 L2111.05,918.11 L2111.80,917.99 L2112.55,917.40 L2113.30,916.32 L2114.05,914.73 L2115.30,910.83 L2116.55,905.10 L2117.80,897.13 L2118.80,888.73 L2120.55,868.29 L2122.05,842.91 L2123.55,807.85 L2127.55,679.29 L2128.30,663.72 L2128.80,658.55 L2129.05,657.73 L2129.55,663.11 L2130.05,677.33 L2132.80,808.32 L2134.30,860.78 L2135.30,884.98 L2136.30,902.87 L2137.30,916.16 L2138.55,928.21 L2140.05,938.13 L2141.55,944.77 L2142.55,947.92 L2143.55,950.28 L2144.55,952.00 L2145.55,953.17 L2146.80,953.96 L2147.55,954.01 L2148.55,953.22 L2149.30,951.94 L2150.05,949.96 L2150.80,947.16 L2152.05,939.97 L2153.05,930.92 L2153.80,921.23 L2155.05,896.49 L2156.05,865.45 L2157.80,793.18 L2158.30,780.60 L2158.55,778.38 L2158.80,779.49 L2159.05,789.41 L2160.55,905.43 L2161.30,936.33 L2162.05,953.72 L2163.05,966.49 L2163.80,972.10 L2164.55,975.87 L2165.55,979.22 L2166.80,981.87 L2168.30,983.83 L2170.05,985.23 L2172.05,986.20 L2282.80,986.20 L2283.05,986.11 L2283.55,985.04 L2284.30,982.88 L2285.05,979.62 L2286.05,971.97 L2286.80,960.94 L2287.55,938.91 L2288.30,888.89 L2289.55,714.57 L2289.80,723.94 L2290.55,839.55 L2291.30,911.64 L2292.05,942.42 L2292.55,953.07 L2293.30,962.31 L2294.30,968.54 L2294.80,970.28 L2295.55,971.86 L2296.30,972.53 L2297.05,972.44 L2297.80,971.55 L2298.30,970.41 L2299.30,966.21 L2300.05,960.12 L2301.05,942.80 L2301.55,925.21 L2302.05,894.33 L2303.30,719.13 L2303.55,708.64 L2304.05,730.76 L2305.55,844.94 L2306.30,872.48 L2306.80,881.29 L2307.05,883.39 L2307.30,884.08" fill="none" stroke="#ff0000" stroke-width="10.6" stroke-linejoin="round" stroke-linecap="round"/>
<path clip-path="url(#c2)" d="M327.70,1482.56 L328.45,1481.94 L328.95,1480.78 L329.70,1477.75 L330.20,1474.64 L331.20,1464.65 L331.95,1452.06 L333.20,1413.35 L334.70,1333.81 L335.20,1319.61 L335.45,1324.59 L336.70,1439.17 L337.45,1471.86 L338.20,1486.91 L338.95,1494.42 L339.70,1498.41 L340.70,1500.94 L341.20,1501.42 L341.95,1501.27 L342.70,1499.95 L343.45,1496.86 L344.95,1482.60 L345.20,1481.82 L345.95,1487.09 L346.95,1499.15 L347.70,1505.17 L348.70,1509.30 L349.45,1510.93 L350.20,1511.94 L351.20,1512.77 L352.20,1513.20 L461.95,1513.20 L464.70,1512.28 L466.70,1510.82 L467.70,1509.52 L468.45,1508.06 L469.70,1503.74 L470.45,1498.84 L471.20,1490.02 L472.20,1463.42 L473.45,1388.96 L473.70,1383.51 L473.95,1382.73 L474.45,1389.07 L476.70,1449.85 L477.45,1462.26 L478.20,1470.89 L479.45,1479.80 L480.20,1483.02 L480.95,1485.17 L481.70,1486.48 L482.70,1487.16 L483.20,1487.09 L483.70,1486.75 L484.95,1485.21 L486.20,1482.39 L487.20,1478.93 L488.20,1473.98 L489.20,1466.94 L490.70,1450.13 L491.95,1426.27 L493.45,1375.74 L495.95,1227.83 L496.45,1209.24 L496.70,1205.48 L496.95,1206.43 L497.20,1209.48 L497.95,1229.49 L500.20,1325.75 L501.45,1368.89 L502.45,1394.26 L503.70,1416.93 L505.45,1437.06 L506.45,1444.47 L507.70,1450.81 L508.95,1454.65 L509.45,1455.61 L510.20,1456.47 L510.70,1456.69 L511.45,1456.56 L512.20,1456.07 L512.95,1455.20 L514.45,1452.25 L515.70,1448.38 L516.95,1442.94 L517.95,1437.20 L519.95,1420.74 L521.70,1398.55 L523.20,1371.05 L524.45,1340.27 L528.45,1210.32 L529.20,1196.34 L529.70,1192.68 L529.95,1192.67 L530.45,1195.44 L531.45,1210.71 L535.70,1325.78 L536.95,1352.72 L538.45,1377.74 L540.20,1398.56 L541.95,1412.56 L542.95,1418.19 L544.20,1423.27 L545.20,1425.96 L546.45,1427.78 L547.20,1428.10 L547.95,1427.93 L548.95,1427.13 L549.70,1426.09 L551.20,1422.80 L552.70,1417.72 L554.20,1410.57 L555.45,1402.71 L557.70,1383.10 L559.70,1358.04 L561.45,1328.69 L566.95,1205.99 L568.20,1189.04 L568.70,1185.89 L568.95,1185.19 L569.20,1185.08 L569.70,1186.37 L570.20,1189.55 L571.45,1204.80 L576.70,1309.21 L578.20,1333.86 L579.95,1356.80 L581.70,1374.13 L583.70,1388.23 L584.70,1393.36 L585.95,1398.23 L586.95,1401.00 L588.20,1403.15 L588.95,1403.78 L589.70,1403.92 L590.45,1403.64 L591.20,1402.97 L592.70,1400.41 L594.20,1396.12 L595.70,1389.93 L596.95,1383.13 L598.20,1374.62 L599.45,1364.18 L601.45,1342.83 L603.45,1314.95 L605.20,1285.07 L608.70,1217.85 L609.95,1197.65 L611.20,1183.98 L611.95,1179.97 L612.45,1179.27 L612.70,1179.48 L613.20,1180.79 L613.95,1184.96 L615.45,1200.19 L621.70,1298.66 L623.45,1321.86 L625.20,1340.99 L627.20,1358.16 L629.45,1372.26 L630.45,1376.98 L631.70,1381.68 L632.70,1384.56 L633.95,1387.11 L634.70,1388.11 L635.45,1388.72 L636.20,1388.95 L636.95,1388.79 L637.70,1388.22 L638.45,1387.24 L639.95,1384.00 L641.45,1378.95 L642.70,1373.22 L644.20,1364.33 L645.45,1355.04 L647.70,1333.42 L649.70,1308.30 L651.70,1277.64 L655.20,1217.49 L656.70,1195.60 L657.45,1187.29 L658.20,1181.35 L658.95,1178.11 L659.45,1177.57 L659.70,1177.77 L660.20,1178.92 L660.95,1182.51 L661.70,1188.17 L662.70,1198.47 L664.20,1218.25 L669.20,1292.21 L670.95,1313.87 L672.45,1329.64 L674.20,1344.85 L675.95,1356.88 L677.95,1367.17 L679.95,1374.21 L681.45,1377.57 L682.20,1378.66 L683.20,1379.54 L684.20,1379.75 L684.95,1379.47 L685.70,1378.78 L686.45,1377.69 L687.95,1374.26 L689.45,1369.07 L690.95,1361.97 L692.45,1352.75 L694.95,1332.08 L697.20,1307.15 L699.45,1276.24 L703.20,1218.35 L704.70,1198.59 L706.20,1185.07 L706.95,1181.48 L707.45,1180.41 L707.70,1180.29 L707.95,1180.40 L708.45,1181.41 L709.20,1184.79 L709.95,1190.28 L710.95,1200.38 L712.45,1219.93 L717.95,1299.63 L719.95,1322.55 L722.20,1342.81 L724.70,1359.04 L725.95,1364.96 L727.20,1369.56 L728.45,1372.93 L729.95,1375.44 L731.20,1376.31 L731.95,1376.31 L732.70,1375.93 L733.95,1374.44 L735.20,1371.87 L736.45,1368.17 L737.45,1364.33 L739.70,1352.64 L741.95,1336.18 L743.95,1317.02 L745.95,1293.37 L751.20,1217.32 L752.70,1197.97 L753.70,1187.91 L754.45,1182.39 L755.20,1178.89 L755.70,1177.76 L755.95,1177.57 L756.20,1177.65 L756.70,1178.54 L757.45,1181.62 L758.20,1186.67 L759.20,1196.07 L760.95,1217.90 L766.45,1295.61 L768.45,1318.45 L770.70,1339.00 L773.20,1355.91 L774.45,1362.26 L775.70,1367.36 L776.95,1371.29 L778.20,1374.12 L779.45,1375.90 L780.20,1376.48 L780.95,1376.70 L781.70,1376.54 L782.20,1376.20 L783.45,1374.54 L784.70,1371.69 L785.95,1367.57 L788.20,1356.72 L790.45,1340.84 L792.45,1321.91 L794.45,1298.09 L799.70,1219.63 L801.45,1196.84 L802.45,1187.48 L803.20,1182.85 L803.70,1181.04 L804.20,1180.30 L804.70,1180.66 L804.95,1181.24 L805.45,1183.23 L806.20,1188.15 L807.70,1203.90 L813.95,1297.71 L815.95,1322.46 L817.95,1342.30 L820.20,1359.16 L821.45,1366.31 L822.70,1372.04 L823.95,1376.46 L825.45,1380.18 L826.70,1382.04 L827.45,1382.63 L828.20,1382.83 L828.95,1382.62 L829.45,1382.24 L830.70,1380.42 L831.95,1377.34 L832.95,1373.91 L834.20,1368.34 L835.20,1362.76 L837.45,1346.18 L839.45,1326.13 L841.45,1300.59 L846.45,1220.29 L847.95,1199.26 L848.70,1191.25 L849.45,1185.47 L850.20,1182.26 L850.70,1181.65 L850.95,1181.82 L851.45,1183.08 L852.20,1187.22 L853.70,1202.59 L860.20,1306.08 L862.20,1331.86 L864.20,1352.31 L866.70,1371.16 L867.95,1378.18 L869.20,1383.81 L870.45,1388.17 L871.95,1391.88 L873.45,1394.05 L874.20,1394.57 L874.95,1394.74 L875.70,1394.46 L876.20,1393.98 L877.45,1391.75 L878.70,1387.98 L879.70,1383.77 L881.70,1371.74 L883.70,1354.06 L885.45,1333.05 L887.20,1306.22 L892.70,1202.42 L893.95,1187.95 L894.70,1183.91 L894.95,1183.43 L895.20,1183.39 L895.70,1184.84 L896.20,1188.38 L897.45,1205.15 L902.70,1316.07 L904.45,1345.09 L906.20,1367.49 L908.45,1388.10 L909.45,1394.85 L910.70,1401.55 L911.95,1406.55 L913.20,1410.06 L914.45,1412.22 L915.20,1412.89 L915.95,1413.12 L916.70,1412.89 L917.20,1412.46 L918.45,1410.39 L919.70,1406.85 L920.95,1401.67 L922.20,1394.63 L923.20,1387.46 L925.20,1368.17 L926.95,1344.68 L928.70,1313.80 L933.70,1201.08 L934.95,1183.65 L935.45,1180.29 L935.70,1179.48 L935.95,1179.30 L936.20,1179.99 L936.70,1183.85 L937.70,1200.44 L942.45,1328.95 L943.95,1359.47 L945.70,1386.10 L947.70,1407.27 L948.95,1416.73 L950.20,1423.96 L951.45,1429.36 L952.95,1433.82 L954.45,1436.40 L955.20,1437.05 L955.95,1437.29 L956.70,1436.99 L957.20,1436.41 L958.20,1434.28 L959.20,1430.76 L960.20,1425.66 L961.95,1411.96 L963.70,1389.89 L964.95,1366.92 L966.20,1336.14 L969.95,1212.30 L970.70,1197.85 L971.20,1194.31 L971.45,1194.65 L971.70,1196.87 L972.45,1214.00 L975.70,1345.97 L976.95,1382.58 L978.45,1412.98 L980.20,1435.60 L981.20,1444.40 L982.45,1452.49 L983.70,1458.18 L984.95,1462.06 L986.45,1464.83 L987.20,1465.55 L987.95,1465.87 L988.70,1465.70 L989.20,1465.18 L990.20,1463.10 L991.20,1459.42 L992.20,1453.75 L993.20,1445.39 L993.95,1436.73 L995.20,1415.63 L996.20,1389.94 L996.95,1363.40 L999.45,1233.30 L999.95,1214.04 L1000.45,1206.20 L1000.70,1210.00 L1000.95,1223.37 L1002.20,1342.66 L1003.20,1409.43 L1004.20,1445.39 L1004.95,1461.17 L1005.70,1471.55 L1006.70,1480.42 L1007.95,1486.90 L1008.70,1489.29 L1009.45,1490.91 L1010.20,1491.91 L1011.20,1492.45 L1011.95,1492.01 L1012.45,1491.09 L1013.45,1487.34 L1014.20,1481.99 L1014.95,1472.77 L1015.70,1456.20 L1016.45,1424.50 L1018.20,1262.07 L1018.45,1264.36 L1018.70,1283.33 L1019.95,1420.50 L1020.95,1469.38 L1021.70,1486.56 L1022.20,1493.68 L1022.95,1500.79 L1023.70,1505.37 L1024.45,1508.48 L1025.70,1511.80 L1026.45,1513.12 L1026.70,1513.20 L1608.55,1513.12 L1609.55,1511.27 L1610.55,1508.48 L1611.30,1505.37 L1612.05,1500.79 L1612.80,1493.68 L1613.30,1486.56 L1614.05,1469.38 L1615.05,1420.50 L1616.30,1283.33 L1616.55,1264.36 L1616.80,1262.07 L1618.05,1387.69 L1618.80,1437.53 L1619.30,1456.20 L1620.05,1472.77 L1621.05,1484.10 L1621.55,1487.34 L1622.30,1490.42 L1622.80,1491.62 L1623.30,1492.28 L1624.05,1492.40 L1624.80,1491.91 L1625.55,1490.91 L1626.30,1489.29 L1627.55,1484.75 L1628.55,1478.59 L1629.30,1471.55 L1630.55,1451.43 L1631.30,1430.20 L1632.05,1396.30 L1632.80,1342.66 L1634.05,1223.37 L1634.30,1210.00 L1634.55,1206.20 L1634.80,1208.48 L1635.30,1222.48 L1637.55,1341.55 L1639.05,1397.29 L1640.05,1420.68 L1641.05,1436.73 L1642.30,1449.96 L1643.55,1458.22 L1644.30,1461.48 L1645.05,1463.76 L1645.80,1465.18 L1646.55,1465.83 L1647.55,1465.70 L1648.55,1464.83 L1649.55,1463.19 L1650.30,1461.41 L1651.80,1456.15 L1653.30,1447.97 L1654.55,1438.03 L1655.80,1424.03 L1657.30,1399.36 L1658.55,1369.34 L1659.80,1327.93 L1662.55,1214.00 L1663.30,1196.87 L1663.55,1194.65 L1663.80,1194.31 L1664.30,1197.85 L1665.05,1212.30 L1668.80,1336.14 L1670.05,1366.92 L1671.55,1393.69 L1673.30,1414.35 L1674.30,1422.43 L1675.30,1428.43 L1676.30,1432.70 L1677.55,1436.00 L1678.05,1436.74 L1678.80,1437.27 L1679.55,1437.18 L1680.30,1436.67 L1681.80,1434.38 L1683.05,1431.07 L1684.30,1426.32 L1685.55,1419.87 L1687.55,1405.06 L1689.55,1382.81 L1691.30,1354.91 L1692.80,1323.10 L1697.30,1200.44 L1698.30,1183.85 L1698.80,1179.99 L1699.05,1179.30 L1699.30,1179.48 L1699.55,1180.29 L1700.05,1183.65 L1701.30,1201.08 L1706.30,1313.80 L1707.80,1340.74 L1709.55,1365.23 L1711.55,1385.43 L1713.55,1399.09 L1714.80,1404.99 L1716.05,1409.16 L1717.30,1411.80 L1718.55,1413.02 L1719.30,1413.10 L1720.05,1412.72 L1721.30,1411.08 L1722.80,1407.37 L1724.05,1402.67 L1725.30,1396.34 L1726.30,1389.92 L1728.55,1370.20 L1730.55,1345.09 L1732.30,1316.07 L1737.55,1205.15 L1738.80,1188.38 L1739.30,1184.84 L1739.80,1183.39 L1740.05,1183.43 L1740.30,1183.91 L1741.05,1187.95 L1742.30,1202.42 L1747.80,1306.22 L1749.55,1333.05 L1751.30,1354.06 L1753.30,1371.74 L1755.30,1383.77 L1756.30,1387.98 L1757.55,1391.75 L1758.80,1393.98 L1759.30,1394.46 L1760.05,1394.74 L1760.80,1394.57 L1761.55,1394.05 L1763.05,1391.88 L1764.55,1388.17 L1765.80,1383.81 L1767.05,1378.18 L1768.30,1371.16 L1770.80,1352.31 L1772.80,1331.86 L1774.80,1306.08 L1781.30,1202.59 L1782.80,1187.22 L1783.55,1183.08 L1784.05,1181.82 L1784.30,1181.65 L1784.80,1182.26 L1785.55,1185.47 L1786.30,1191.25 L1787.05,1199.26 L1788.55,1220.29 L1793.55,1300.59 L1795.30,1323.24 L1797.05,1341.67 L1799.05,1357.89 L1801.05,1369.57 L1803.05,1377.34 L1804.05,1379.91 L1805.30,1381.97 L1806.05,1382.62 L1806.80,1382.83 L1807.55,1382.63 L1808.30,1382.04 L1809.80,1379.68 L1811.05,1376.46 L1812.55,1371.00 L1813.80,1365.00 L1816.30,1348.53 L1818.55,1327.88 L1820.55,1304.36 L1827.55,1200.81 L1829.05,1186.27 L1829.80,1182.11 L1830.55,1180.34 L1830.80,1180.30 L1831.05,1180.54 L1831.30,1181.04 L1832.05,1184.15 L1833.55,1196.84 L1835.05,1216.02 L1839.05,1277.19 L1841.05,1304.51 L1843.30,1329.57 L1845.80,1350.33 L1847.05,1358.16 L1848.55,1365.56 L1850.05,1370.97 L1851.55,1374.54 L1852.30,1375.68 L1853.05,1376.39 L1853.80,1376.69 L1854.80,1376.48 L1855.80,1375.62 L1856.55,1374.56 L1858.05,1371.29 L1860.05,1364.45 L1862.05,1354.48 L1863.80,1342.86 L1865.55,1328.24 L1867.30,1310.38 L1869.05,1289.25 L1874.05,1217.90 L1875.55,1198.82 L1877.30,1183.09 L1878.30,1178.54 L1878.80,1177.65 L1879.05,1177.57 L1879.30,1177.76 L1879.80,1178.89 L1880.55,1182.39 L1881.30,1187.91 L1882.30,1197.97 L1883.80,1217.32 L1888.80,1290.11 L1890.55,1311.53 L1892.05,1327.16 L1893.80,1342.24 L1895.55,1354.16 L1897.30,1363.25 L1899.30,1370.53 L1900.80,1374.02 L1901.55,1375.17 L1902.55,1376.10 L1903.55,1376.35 L1904.30,1376.10 L1905.05,1375.44 L1905.80,1374.39 L1907.30,1371.05 L1908.80,1365.99 L1910.30,1359.04 L1911.80,1350.05 L1914.30,1329.94 L1916.80,1302.75 L1918.80,1275.97 L1922.80,1216.41 L1924.30,1197.59 L1925.80,1184.79 L1926.55,1181.41 L1927.05,1180.40 L1927.30,1180.29 L1927.55,1180.41 L1928.05,1181.48 L1928.80,1185.07 L1930.30,1198.59 L1931.80,1218.35 L1937.05,1297.47 L1939.05,1321.77 L1941.05,1341.20 L1943.30,1357.64 L1944.55,1364.56 L1945.80,1370.07 L1947.05,1374.26 L1948.30,1377.24 L1949.55,1379.05 L1950.30,1379.61 L1951.05,1379.76 L1951.80,1379.54 L1952.55,1378.94 L1953.80,1377.12 L1955.05,1374.21 L1956.30,1370.17 L1957.55,1364.92 L1958.80,1358.36 L1961.30,1340.84 L1963.30,1322.08 L1965.30,1298.75 L1971.05,1214.69 L1972.55,1195.64 L1973.55,1186.07 L1974.30,1181.07 L1975.05,1178.22 L1975.55,1177.57 L1975.80,1177.68 L1976.30,1178.87 L1977.05,1183.04 L1978.55,1198.82 L1984.80,1301.13 L1986.80,1327.68 L1988.80,1348.57 L1991.05,1365.97 L1992.30,1373.22 L1993.55,1378.95 L1994.80,1383.29 L1996.05,1386.36 L1997.30,1388.22 L1998.05,1388.79 L1998.80,1388.95 L1999.55,1388.72 L2000.30,1388.11 L2001.55,1386.22 L2003.05,1382.47 L2004.30,1378.02 L2005.55,1372.26 L2006.80,1365.06 L2009.05,1347.99 L2011.05,1327.74 L2013.05,1302.22 L2019.55,1200.19 L2021.05,1184.96 L2021.80,1180.79 L2022.30,1179.48 L2022.55,1179.27 L2023.05,1179.97 L2023.80,1183.98 L2025.30,1201.27 L2031.05,1306.91 L2032.80,1333.18 L2034.80,1356.89 L2036.80,1374.62 L2039.05,1388.69 L2040.30,1394.28 L2041.55,1398.49 L2042.80,1401.45 L2044.05,1403.24 L2044.80,1403.78 L2045.55,1403.93 L2046.30,1403.62 L2046.80,1403.15 L2047.55,1402.03 L2048.30,1400.40 L2049.55,1396.48 L2050.80,1390.94 L2052.05,1383.58 L2054.30,1364.87 L2056.30,1341.04 L2058.05,1313.64 L2063.55,1204.80 L2064.80,1189.55 L2065.30,1186.37 L2065.80,1185.08 L2066.05,1185.19 L2066.30,1185.89 L2066.80,1189.04 L2067.80,1201.70 L2068.80,1220.92 L2072.05,1297.58 L2073.80,1333.34 L2075.80,1365.09 L2078.05,1390.52 L2079.55,1402.71 L2081.05,1411.92 L2082.55,1418.70 L2084.30,1424.08 L2085.05,1425.65 L2086.05,1427.13 L2087.05,1427.93 L2088.05,1428.06 L2088.80,1427.55 L2089.55,1426.46 L2091.05,1422.41 L2092.80,1414.11 L2094.30,1403.16 L2095.80,1387.63 L2097.05,1370.22 L2098.30,1347.80 L2099.55,1319.69 L2103.55,1210.71 L2104.55,1195.44 L2105.05,1192.67 L2105.30,1192.68 L2105.80,1196.34 L2106.55,1210.32 L2110.55,1340.27 L2111.80,1371.05 L2113.30,1398.55 L2115.05,1420.74 L2117.05,1437.20 L2118.05,1442.94 L2119.30,1448.38 L2120.55,1452.25 L2122.05,1455.20 L2122.80,1456.07 L2123.55,1456.56 L2124.30,1456.69 L2124.80,1456.47 L2125.55,1455.61 L2126.05,1454.65 L2127.30,1450.81 L2128.55,1444.47 L2129.55,1437.06 L2131.30,1416.93 L2132.55,1394.26 L2133.55,1368.89 L2134.80,1325.75 L2137.05,1229.49 L2137.80,1209.48 L2138.05,1206.43 L2138.30,1205.48 L2138.55,1209.24 L2139.05,1227.83 L2141.55,1375.74 L2143.05,1426.27 L2144.30,1450.13 L2145.80,1466.94 L2146.80,1473.98 L2147.80,1478.93 L2148.80,1482.39 L2150.05,1485.21 L2151.30,1486.75 L2151.80,1487.09 L2152.30,1487.16 L2153.30,1486.48 L2154.05,1485.17 L2154.80,1483.02 L2155.55,1479.80 L2156.80,1470.89 L2157.55,1462.26 L2158.30,1449.85 L2160.55,1389.07 L2161.05,1382.73 L2161.30,1383.51 L2161.55,1388.96 L2162.80,1463.42 L2163.80,1490.02 L2164.55,1498.84 L2165.30,1503.74 L2166.55,1508.06 L2167.30,1509.52 L2168.30,1510.82 L2170.30,1512.28 L2173.05,1513.20 L2282.80,1513.20 L2283.80,1512.77 L2284.80,1511.94 L2285.55,1510.93 L2286.30,1509.30 L2287.30,1505.17 L2288.05,1499.15 L2289.05,1487.09 L2289.80,1481.82 L2290.05,1482.60 L2291.55,1496.86 L2292.30,1499.95 L2293.05,1501.27 L2293.80,1501.42 L2294.30,1500.94 L2295.30,1498.41 L2296.05,1494.42 L2296.80,1486.91 L2297.55,1471.86 L2298.30,1439.17 L2299.55,1324.59 L2299.80,1319.61 L2300.30,1333.81 L2301.80,1413.35 L2303.05,1452.06 L2303.80,1464.65 L2304.80,1474.64 L2305.30,1477.75 L2306.05,1480.78 L2306.55,1481.94 L2307.30,1482.56" fill="none" stroke="#0000ff" stroke-width="10.6" stroke-linejoin="round" stroke-linecap="round"/>
<path d="M327.70,34.60 L2307.30,34.60 M2307.30,34.60 L2307.30,459.90 M327.70,459.90 L2307.30,459.90 M327.70,34.60 L327.70,459.90 M299.70,459.90 L327.70,459.90 M313.70,374.80 L327.70,374.80 M299.70,289.70 L327.70,289.70 M313.70,204.60 L327.70,204.60 M299.70,119.50 L327.70,119.50 M313.70,34.40 L327.70,34.40 M327.70,459.90 L327.70,487.90 M492.67,459.90 L492.67,473.90 M657.63,459.90 L657.63,487.90 M822.60,459.90 L822.60,473.90 M987.57,459.90 L987.57,487.90 M1152.53,459.90 L1152.53,473.90 M1317.50,459.90 L1317.50,487.90 M1482.47,459.90 L1482.47,473.90 M1647.43,459.90 L1647.43,487.90 M1812.40,459.90 L1812.40,473.90 M1977.37,459.90 L1977.37,487.90 M2142.33,459.90 L2142.33,473.90 M2307.30,459.90 L2307.30,487.90" fill="none" stroke="#000" stroke-width="5.7" stroke-linecap="round" stroke-linejoin="round"/>
<path d="M327.70,560.90 L2307.30,560.90 M2307.30,560.90 L2307.30,986.20 M327.70,986.20 L2307.30,986.20 M327.70,560.90 L327.70,986.20 M299.70,986.20 L327.70,986.20 M313.70,901.10 L327.70,901.10 M299.70,816.00 L327.70,816.00 M313.70,730.90 L327.70,730.90 M299.70,645.80 L327.70,645.80 M313.70,560.70 L327.70,560.70 M327.70,986.20 L327.70,1014.20 M492.67,986.20 L492.67,1000.20 M657.63,986.20 L657.63,1014.20 M822.60,986.20 L822.60,1000.20 M987.57,986.20 L987.57,1014.20 M1152.53,986.20 L1152.53,1000.20 M1317.50,986.20 L1317.50,1014.20 M1482.47,986.20 L1482.47,1000.20 M1647.43,986.20 L1647.43,1014.20 M1812.40,986.20 L1812.40,1000.20 M1977.37,986.20 L1977.37,1014.20 M2142.33,986.20 L2142.33,1000.20 M2307.30,986.20 L2307.30,1014.20" fill="none" stroke="#000" stroke-width="5.7" stroke-linecap="round" stroke-linejoin="round"/>
<path d="M327.70,1088.00 L2307.30,1088.00 M2307.30,1088.00 L2307.30,1513.20 M327.70,1513.20 L2307.30,1513.20 M327.70,1088.00 L327.70,1513.20 M299.70,1513.20 L327.70,1513.20 M313.70,1428.10 L327.70,1428.10 M299.70,1343.00 L327.70,1343.00 M313.70,1257.90 L327.70,1257.90 M299.70,1172.80 L327.70,1172.80 M313.70,1087.70 L327.70,1087.70 M327.70,1513.20 L327.70,1541.20 M492.67,1513.20 L492.67,1527.20 M657.63,1513.20 L657.63,1541.20 M822.60,1513.20 L822.60,1527.20 M987.57,1513.20 L987.57,1541.20 M1152.53,1513.20 L1152.53,1527.20 M1317.50,1513.20 L1317.50,1541.20 M1482.47,1513.20 L1482.47,1527.20 M1647.43,1513.20 L1647.43,1541.20 M1812.40,1513.20 L1812.40,1527.20 M1977.37,1513.20 L1977.37,1541.20 M2142.33,1513.20 L2142.33,1527.20 M2307.30,1513.20 L2307.30,1541.20" fill="none" stroke="#000" stroke-width="5.7" stroke-linecap="round" stroke-linejoin="round"/>
<text transform="translate(280.00,140.30) scale(0.9580,1)" text-anchor="end" style="font-family:&quot;Liberation Sans&quot;,Arial,sans-serif;font-weight:bold;font-size:82.30px">1.0</text>
<text transform="translate(280.00,310.50) scale(0.9580,1)" text-anchor="end" style="font-family:&quot;Liberation Sans&quot;,Arial,sans-serif;font-weight:bold;font-size:82.30px">0.5</text>
<text transform="translate(280.00,480.70) scale(0.9580,1)" text-anchor="end" style="font-family:&quot;Liberation Sans&quot;,Arial,sans-serif;font-weight:bold;font-size:82.30px">0.0</text>
<text transform="translate(280.00,666.60) scale(0.9580,1)" text-anchor="end" style="font-family:&quot;Liberation Sans&quot;,Arial,sans-serif;font-weight:bold;font-size:82.30px">1.0</text>
<text transform="translate(280.00,836.80) scale(0.9580,1)" text-anchor="end" style="font-family:&quot;Liberation Sans&quot;,Arial,sans-serif;font-weight:bold;font-size:82.30px">0.5</text>
<text transform="translate(280.00,1007.00) scale(0.9580,1)" text-anchor="end" style="font-family:&quot;Liberation Sans&quot;,Arial,sans-serif;font-weight:bold;font-size:82.30px">0.0</text>
<text transform="translate(280.00,1193.60) scale(0.9580,1)" text-anchor="end" style="font-family:&quot;Liberation Sans&quot;,Arial,sans-serif;font-weight:bold;font-size:82.30px">1.0</text>
<text transform="translate(280.00,1363.80) scale(0.9580,1)" text-anchor="end" style="font-family:&quot;Liberation Sans&quot;,Arial,sans-serif;font-weight:bold;font-size:82.30px">0.5</text>
<text transform="translate(280.00,1534.00) scale(0.9580,1)" text-anchor="end" style="font-family:&quot;Liberation Sans&quot;,Arial,sans-serif;font-weight:bold;font-size:82.30px">0.0</text>
<text transform="translate(328.00,1622.00) scale(0.9580,1)" text-anchor="middle" style="font-family:&quot;Liberation Sans&quot;,Arial,sans-serif;font-weight:bold;font-size:82.30px">-1.8</text>
<text transform="translate(657.93,1622.00) scale(0.9580,1)" text-anchor="middle" style="font-family:&quot;Liberation Sans&quot;,Arial,sans-serif;font-weight:bold;font-size:82.30px">-1.2</text>
<text transform="translate(987.87,1622.00) scale(0.9580,1)" text-anchor="middle" style="font-family:&quot;Liberation Sans&quot;,Arial,sans-serif;font-weight:bold;font-size:82.30px">-0.6</text>
<text transform="translate(1317.80,1622.00) scale(0.9580,1)" text-anchor="middle" style="font-family:&quot;Liberation Sans&quot;,Arial,sans-serif;font-weight:bold;font-size:82.30px">0.0</text>
<text transform="translate(1647.73,1622.00) scale(0.9580,1)" text-anchor="middle" style="font-family:&quot;Liberation Sans&quot;,Arial,sans-serif;font-weight:bold;font-size:82.30px">0.6</text>
<text transform="translate(1977.67,1622.00) scale(0.9580,1)" text-anchor="middle" style="font-family:&quot;Liberation Sans&quot;,Arial,sans-serif;font-weight:bold;font-size:82.30px">1.2</text>
<text transform="translate(2307.60,1622.00) scale(0.9580,1)" text-anchor="middle" style="font-family:&quot;Liberation Sans&quot;,Arial,sans-serif;font-weight:bold;font-size:82.30px">1.8</text>
<text transform="translate(348.70,118.80) scale(1.0000,1)" text-anchor="start" style="font-family:&quot;Liberation Sans&quot;,Arial,sans-serif;font-weight:bold;font-size:67.00px">(a)</text>
<text transform="translate(356.60,643.80) scale(1.0000,1)" text-anchor="start" style="font-family:&quot;Liberation Sans&quot;,Arial,sans-serif;font-weight:bold;font-size:67.00px">(b)</text>
<text transform="translate(357.60,1161.80) scale(1.0000,1)" text-anchor="start" style="font-family:&quot;Liberation Sans&quot;,Arial,sans-serif;font-weight:bold;font-size:67.00px">(c)</text>
<text transform="translate(107.20,399.63) rotate(-90) scale(0.9219,1)" style="font-family:&quot;Liberation Sans&quot;,Arial,sans-serif;font-weight:bold;font-size:90.26px">T</text>
<text transform="translate(133.90,345.62) rotate(-90) scale(0.9472,1)" style="font-family:&quot;Liberation Sans&quot;,Arial,sans-serif;font-weight:bold;font-size:88.66px">L</text>
<text transform="translate(133.80,291.90) rotate(-90) scale(0.9662,1)" style="font-family:&quot;Liberation Sans&quot;,Arial,sans-serif;font-weight:bold;font-size:89.68px">R</text>
<text transform="translate(106.83,228.96) rotate(-90) scale(1.0392,1)" style="font-family:&quot;Liberation Serif&quot;,&quot;Times New Roman&quot;,serif;font-size:80.18px">(</text>
<text transform="translate(107.61,202.28) rotate(-90) scale(1.0548,1)" style="font-family:&quot;Liberation Serif&quot;,&quot;Times New Roman&quot;,serif;font-size:80.67px">ε</text>
<text transform="translate(106.83,165.71) rotate(-90) scale(1.0489,1)" style="font-family:&quot;Liberation Serif&quot;,&quot;Times New Roman&quot;,serif;font-size:80.18px">)</text>
<text transform="translate(99.90,968.73) rotate(-90) scale(0.9188,1)" style="font-family:&quot;Liberation Sans&quot;,Arial,sans-serif;font-weight:bold;font-size:89.83px">T</text>
<text transform="translate(127.90,914.61) rotate(-90) scale(0.9450,1)" style="font-family:&quot;Liberation Sans&quot;,Arial,sans-serif;font-weight:bold;font-size:88.66px">L</text>
<text transform="translate(128.10,860.95) rotate(-90) scale(0.9591,1)" style="font-family:&quot;Liberation Sans&quot;,Arial,sans-serif;font-weight:bold;font-size:89.68px">R</text>
<text transform="translate(100.09,796.66) rotate(-90) scale(0.8696,1)" style="font-family:&quot;Liberation Sans&quot;,Arial,sans-serif;font-weight:bold;font-size:86.79px">(</text>
<text transform="translate(100.22,768.08) rotate(-90) scale(1.0631,1)" style="font-family:&quot;Liberation Serif&quot;,&quot;Times New Roman&quot;,serif;font-size:80.05px">ε</text>
<text transform="translate(100.09,727.57) rotate(-90) scale(0.8451,1)" style="font-family:&quot;Liberation Sans&quot;,Arial,sans-serif;font-weight:bold;font-size:86.79px">)</text>
<text transform="translate(100.10,1466.73) rotate(-90) scale(0.9196,1)" style="font-family:&quot;Liberation Sans&quot;,Arial,sans-serif;font-weight:bold;font-size:90.12px">T</text>
<text transform="translate(128.10,1412.77) rotate(-90) scale(0.9452,1)" style="font-family:&quot;Liberation Sans&quot;,Arial,sans-serif;font-weight:bold;font-size:89.68px">L</text>
<text transform="translate(128.10,1359.37) rotate(-90) scale(0.9784,1)" style="font-family:&quot;Liberation Sans&quot;,Arial,sans-serif;font-weight:bold;font-size:89.68px">R</text>
<text transform="translate(99.91,1296.35) rotate(-90) scale(1.0562,1)" style="font-family:&quot;Liberation Serif&quot;,&quot;Times New Roman&quot;,serif;font-size:80.73px">(</text>
<text transform="translate(100.23,1268.16) rotate(-90) scale(1.0671,1)" style="font-family:&quot;Liberation Serif&quot;,&quot;Times New Roman&quot;,serif;font-size:79.22px">ε</text>
<text transform="translate(99.91,1232.82) rotate(-90) scale(1.0466,1)" style="font-family:&quot;Liberation Serif&quot;,&quot;Times New Roman&quot;,serif;font-size:80.73px">)</text>
<line x1="1145.6" y1="293.6" x2="1301.3" y2="293.6" stroke="#000" stroke-width="10.6" stroke-linecap="round"/>
<text class="lg" x="1320.0" y="317.0">N</text>
<text class="sub" x="1370.3" y="343.5">a</text>
<text class="lg" x="1413.0" y="317.0">= 100</text>
<line x1="1145.6" y1="688.9" x2="1301.3" y2="688.9" stroke="#f00" stroke-width="10.6" stroke-linecap="round"/>
<text class="lg" x="1320.0" y="712.3">N</text>
<text class="sub" x="1370.3" y="738.8">a</text>
<text class="lg" x="1413.0" y="712.3">= 116</text>
<line x1="1100.8" y1="1163.6" x2="1258.0" y2="1163.6" stroke="#00f" stroke-width="10.6" stroke-linecap="round"/>
<text class="lg" x="1295.3" y="1187.1">N</text>
<text class="sub" x="1345.6" y="1213.6">a</text>
<text class="lg" x="1388.3" y="1187.1">= 132</text>
<rect x="1158.7" y="768.7" width="31.6" height="39.5" fill="none" stroke="#444" stroke-width="1.2"/>
<text class="sub" x="1193.5" y="836.5">t</text>
<text class="lg" x="1224" y="809.4">= 2.7 eV</text>
<text class="lg" x="1168" y="1361.7">(SGQDs)</text>
<text transform="translate(1206.51,1723.42) scale(1.0694,1)" style="font-family:&quot;Liberation Serif&quot;,&quot;Times New Roman&quot;,serif;font-size:79.84px">ε</text>
<text transform="translate(1266.25,1722.91) scale(0.9837,1)" style="font-family:&quot;Liberation Sans&quot;,Arial,sans-serif;font-weight:bold;font-size:86.68px">(eV)</text>
</svg></body></html>
